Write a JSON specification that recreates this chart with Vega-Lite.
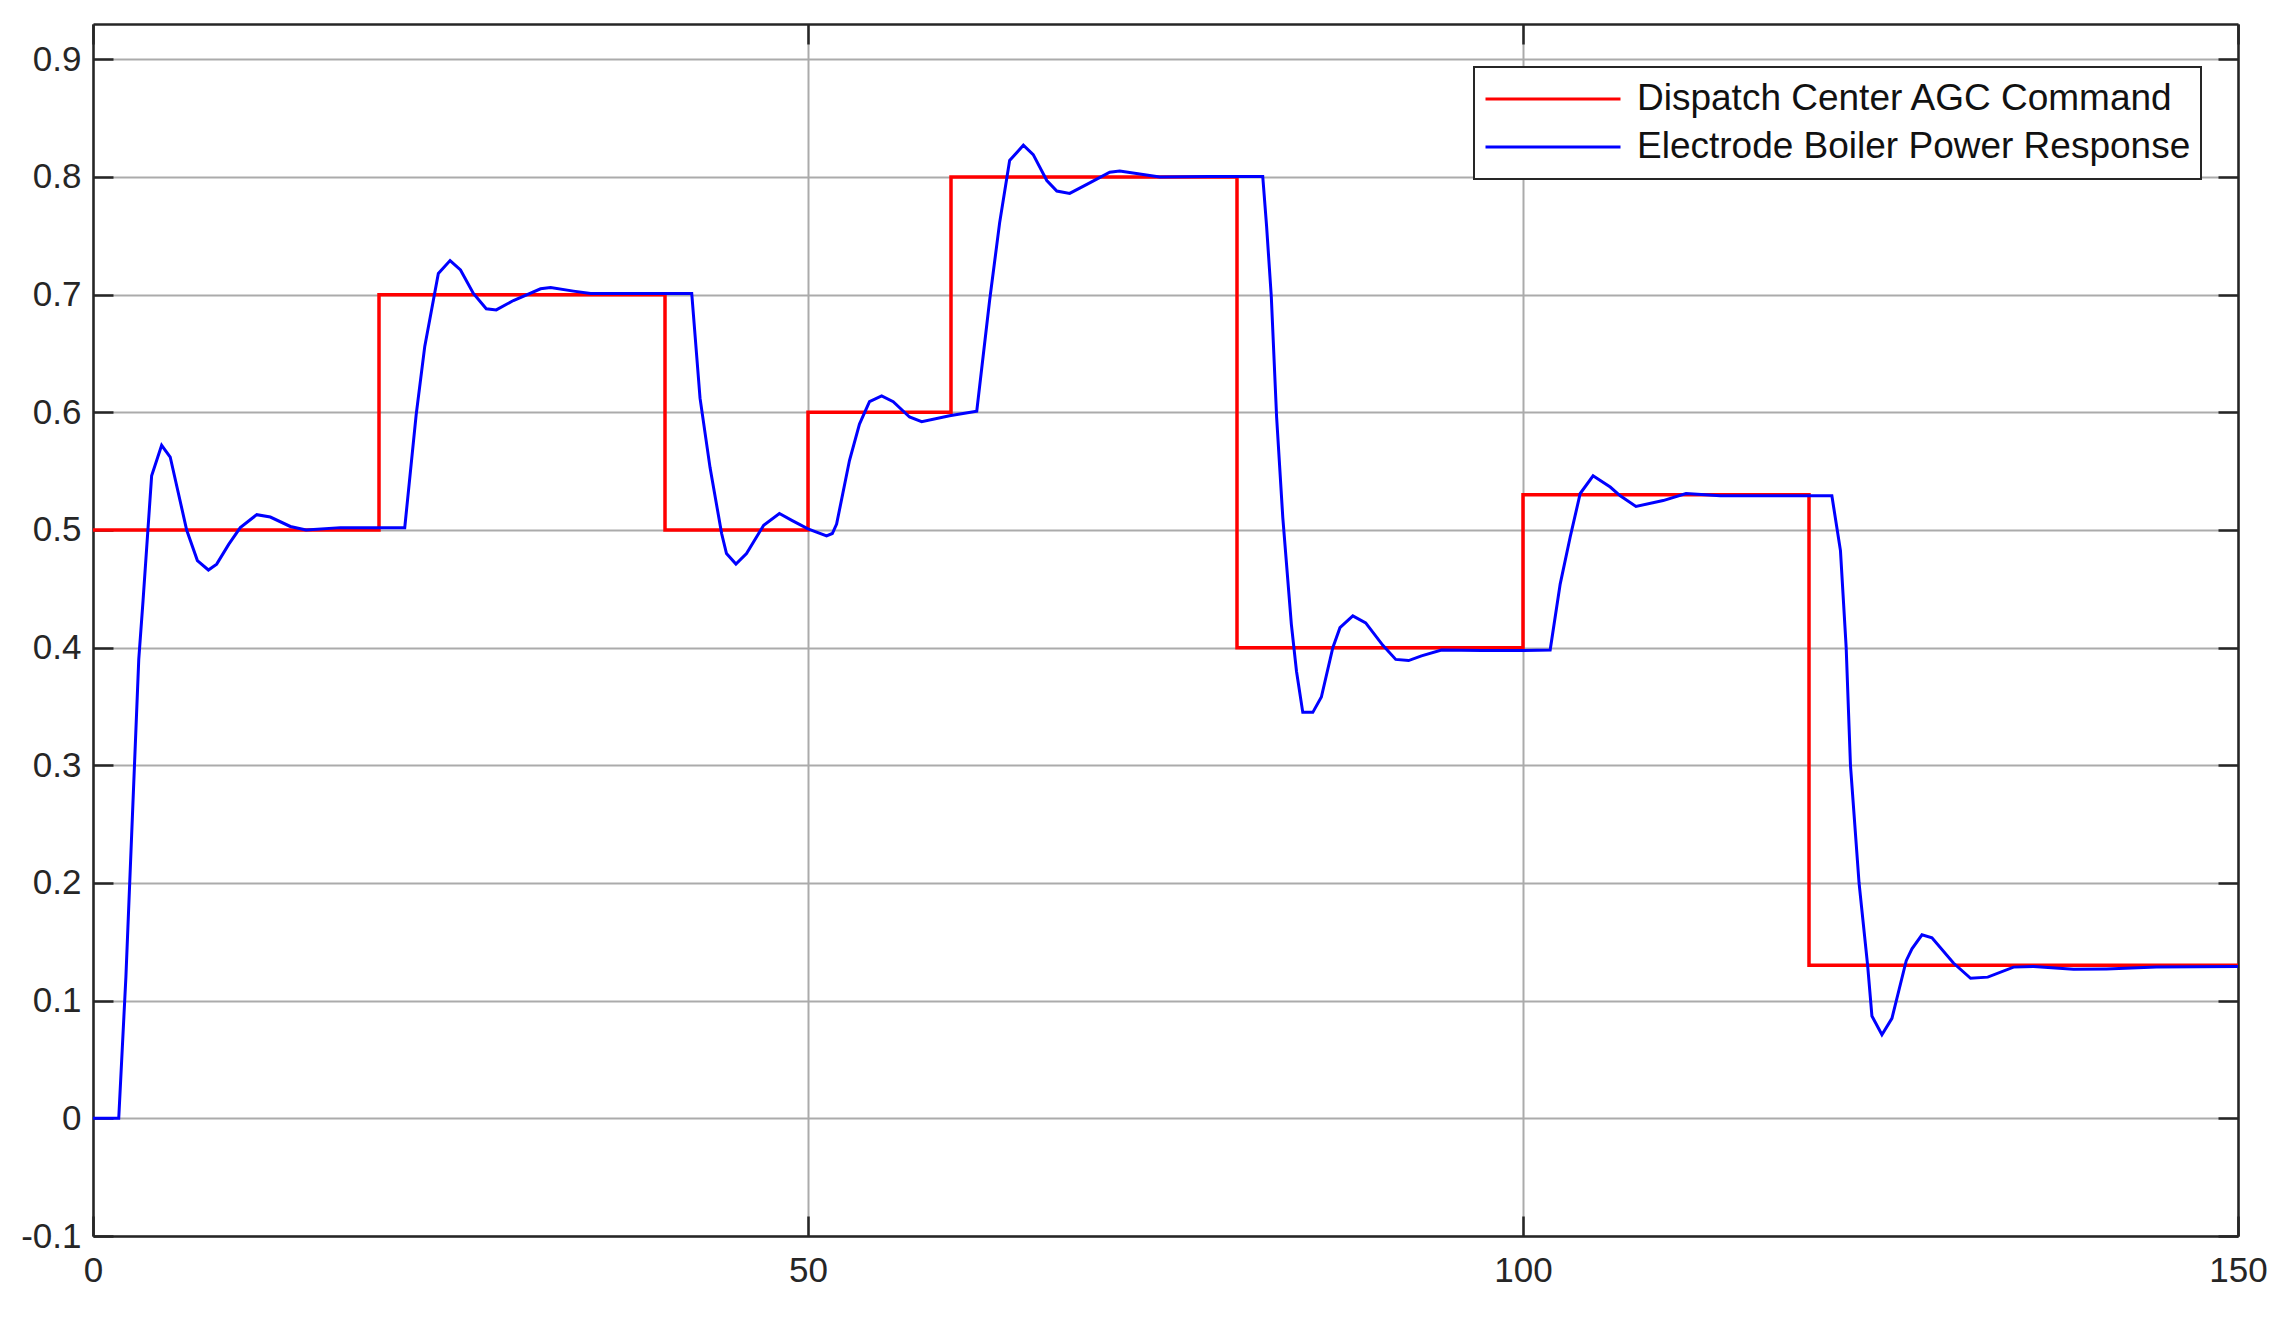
{
  "$schema": "https://vega.github.io/schema/vega-lite/v6.json",
  "width": 2145,
  "height": 1212,
  "autosize": "none",
  "padding": {"left": 93, "top": 24, "right": 55, "bottom": 85},
  "background": "white",
  "datasets": {
    "agc": [
      {"t": 0, "v": 0.5, "series": "Dispatch Center AGC Command"},
      {"t": 20, "v": 0.7, "series": "Dispatch Center AGC Command"},
      {"t": 40, "v": 0.5, "series": "Dispatch Center AGC Command"},
      {"t": 50, "v": 0.6, "series": "Dispatch Center AGC Command"},
      {"t": 60, "v": 0.8, "series": "Dispatch Center AGC Command"},
      {"t": 80, "v": 0.4, "series": "Dispatch Center AGC Command"},
      {"t": 100, "v": 0.53, "series": "Dispatch Center AGC Command"},
      {"t": 120, "v": 0.13, "series": "Dispatch Center AGC Command"},
      {"t": 150, "v": 0.13, "series": "Dispatch Center AGC Command"}
    ],
    "boiler": [
      {"t": 0, "v": 0, "series": "Electrode Boiler Power Response"},
      {"t": 1.8, "v": 0, "series": "Electrode Boiler Power Response"},
      {"t": 2.3, "v": 0.12, "series": "Electrode Boiler Power Response"},
      {"t": 2.7, "v": 0.24, "series": "Electrode Boiler Power Response"},
      {"t": 3.2, "v": 0.39, "series": "Electrode Boiler Power Response"},
      {"t": 3.5, "v": 0.44, "series": "Electrode Boiler Power Response"},
      {"t": 4.1, "v": 0.546, "series": "Electrode Boiler Power Response"},
      {"t": 4.8, "v": 0.572, "series": "Electrode Boiler Power Response"},
      {"t": 5.4, "v": 0.562, "series": "Electrode Boiler Power Response"},
      {"t": 6.55, "v": 0.5, "series": "Electrode Boiler Power Response"},
      {"t": 7.3, "v": 0.474, "series": "Electrode Boiler Power Response"},
      {"t": 8.07, "v": 0.466, "series": "Electrode Boiler Power Response"},
      {"t": 8.65, "v": 0.471, "series": "Electrode Boiler Power Response"},
      {"t": 9.5, "v": 0.488, "series": "Electrode Boiler Power Response"},
      {"t": 10.3, "v": 0.502, "series": "Electrode Boiler Power Response"},
      {"t": 11.45, "v": 0.513, "series": "Electrode Boiler Power Response"},
      {"t": 12.4, "v": 0.511, "series": "Electrode Boiler Power Response"},
      {"t": 13.8, "v": 0.503, "series": "Electrode Boiler Power Response"},
      {"t": 14.9, "v": 0.5, "series": "Electrode Boiler Power Response"},
      {"t": 17.3, "v": 0.502, "series": "Electrode Boiler Power Response"},
      {"t": 19.9, "v": 0.502, "series": "Electrode Boiler Power Response"},
      {"t": 21.8, "v": 0.502, "series": "Electrode Boiler Power Response"},
      {"t": 22.6, "v": 0.598, "series": "Electrode Boiler Power Response"},
      {"t": 23.2, "v": 0.656, "series": "Electrode Boiler Power Response"},
      {"t": 24.15, "v": 0.718, "series": "Electrode Boiler Power Response"},
      {"t": 24.97, "v": 0.729, "series": "Electrode Boiler Power Response"},
      {"t": 25.7, "v": 0.721, "series": "Electrode Boiler Power Response"},
      {"t": 26.6, "v": 0.701, "series": "Electrode Boiler Power Response"},
      {"t": 27.5, "v": 0.688, "series": "Electrode Boiler Power Response"},
      {"t": 28.2, "v": 0.687, "series": "Electrode Boiler Power Response"},
      {"t": 29.4, "v": 0.695, "series": "Electrode Boiler Power Response"},
      {"t": 31.3, "v": 0.705, "series": "Electrode Boiler Power Response"},
      {"t": 32.0, "v": 0.706, "series": "Electrode Boiler Power Response"},
      {"t": 33.6, "v": 0.703, "series": "Electrode Boiler Power Response"},
      {"t": 34.8, "v": 0.701, "series": "Electrode Boiler Power Response"},
      {"t": 36.2, "v": 0.701, "series": "Electrode Boiler Power Response"},
      {"t": 39.0, "v": 0.701, "series": "Electrode Boiler Power Response"},
      {"t": 41.87, "v": 0.701, "series": "Electrode Boiler Power Response"},
      {"t": 42.45, "v": 0.612, "series": "Electrode Boiler Power Response"},
      {"t": 43.15, "v": 0.553, "series": "Electrode Boiler Power Response"},
      {"t": 43.96, "v": 0.497, "series": "Electrode Boiler Power Response"},
      {"t": 44.3, "v": 0.48, "series": "Electrode Boiler Power Response"},
      {"t": 44.96, "v": 0.471, "series": "Electrode Boiler Power Response"},
      {"t": 45.7, "v": 0.48, "series": "Electrode Boiler Power Response"},
      {"t": 46.9, "v": 0.504, "series": "Electrode Boiler Power Response"},
      {"t": 48.0, "v": 0.514, "series": "Electrode Boiler Power Response"},
      {"t": 48.9, "v": 0.508, "series": "Electrode Boiler Power Response"},
      {"t": 50.0, "v": 0.501, "series": "Electrode Boiler Power Response"},
      {"t": 51.3, "v": 0.495, "series": "Electrode Boiler Power Response"},
      {"t": 51.7, "v": 0.497, "series": "Electrode Boiler Power Response"},
      {"t": 52.0, "v": 0.505, "series": "Electrode Boiler Power Response"},
      {"t": 52.9, "v": 0.559, "series": "Electrode Boiler Power Response"},
      {"t": 53.6, "v": 0.59, "series": "Electrode Boiler Power Response"},
      {"t": 54.3, "v": 0.609, "series": "Electrode Boiler Power Response"},
      {"t": 55.15, "v": 0.614, "series": "Electrode Boiler Power Response"},
      {"t": 55.96, "v": 0.609, "series": "Electrode Boiler Power Response"},
      {"t": 57.1, "v": 0.596, "series": "Electrode Boiler Power Response"},
      {"t": 57.95, "v": 0.592, "series": "Electrode Boiler Power Response"},
      {"t": 59.9, "v": 0.597, "series": "Electrode Boiler Power Response"},
      {"t": 61.8, "v": 0.601, "series": "Electrode Boiler Power Response"},
      {"t": 62.7, "v": 0.695, "series": "Electrode Boiler Power Response"},
      {"t": 63.4, "v": 0.761, "series": "Electrode Boiler Power Response"},
      {"t": 64.1, "v": 0.814, "series": "Electrode Boiler Power Response"},
      {"t": 65.06, "v": 0.827, "series": "Electrode Boiler Power Response"},
      {"t": 65.75, "v": 0.819, "series": "Electrode Boiler Power Response"},
      {"t": 66.7, "v": 0.797, "series": "Electrode Boiler Power Response"},
      {"t": 67.4, "v": 0.788, "series": "Electrode Boiler Power Response"},
      {"t": 68.3, "v": 0.786, "series": "Electrode Boiler Power Response"},
      {"t": 69.7, "v": 0.795, "series": "Electrode Boiler Power Response"},
      {"t": 71.1, "v": 0.804, "series": "Electrode Boiler Power Response"},
      {"t": 71.8, "v": 0.805, "series": "Electrode Boiler Power Response"},
      {"t": 74.6, "v": 0.8, "series": "Electrode Boiler Power Response"},
      {"t": 78.1, "v": 0.8005, "series": "Electrode Boiler Power Response"},
      {"t": 81.8, "v": 0.8005, "series": "Electrode Boiler Power Response"},
      {"t": 82.07, "v": 0.758, "series": "Electrode Boiler Power Response"},
      {"t": 82.4, "v": 0.698, "series": "Electrode Boiler Power Response"},
      {"t": 82.77, "v": 0.596, "series": "Electrode Boiler Power Response"},
      {"t": 83.2, "v": 0.511, "series": "Electrode Boiler Power Response"},
      {"t": 83.8, "v": 0.42, "series": "Electrode Boiler Power Response"},
      {"t": 84.16, "v": 0.38, "series": "Electrode Boiler Power Response"},
      {"t": 84.6, "v": 0.345, "series": "Electrode Boiler Power Response"},
      {"t": 85.3, "v": 0.345, "series": "Electrode Boiler Power Response"},
      {"t": 85.9, "v": 0.358, "series": "Electrode Boiler Power Response"},
      {"t": 86.7, "v": 0.4, "series": "Electrode Boiler Power Response"},
      {"t": 87.2, "v": 0.417, "series": "Electrode Boiler Power Response"},
      {"t": 88.1, "v": 0.427, "series": "Electrode Boiler Power Response"},
      {"t": 89.0, "v": 0.421, "series": "Electrode Boiler Power Response"},
      {"t": 90.2, "v": 0.402, "series": "Electrode Boiler Power Response"},
      {"t": 91.1, "v": 0.39, "series": "Electrode Boiler Power Response"},
      {"t": 92.0, "v": 0.389, "series": "Electrode Boiler Power Response"},
      {"t": 92.9, "v": 0.393, "series": "Electrode Boiler Power Response"},
      {"t": 94.3, "v": 0.398, "series": "Electrode Boiler Power Response"},
      {"t": 97.1, "v": 0.3975, "series": "Electrode Boiler Power Response"},
      {"t": 100.0, "v": 0.3975, "series": "Electrode Boiler Power Response"},
      {"t": 101.9, "v": 0.398, "series": "Electrode Boiler Power Response"},
      {"t": 102.6, "v": 0.454, "series": "Electrode Boiler Power Response"},
      {"t": 103.3, "v": 0.494, "series": "Electrode Boiler Power Response"},
      {"t": 104.0, "v": 0.531, "series": "Electrode Boiler Power Response"},
      {"t": 104.9, "v": 0.546, "series": "Electrode Boiler Power Response"},
      {"t": 106.1, "v": 0.5365, "series": "Electrode Boiler Power Response"},
      {"t": 106.8, "v": 0.529, "series": "Electrode Boiler Power Response"},
      {"t": 107.9, "v": 0.52, "series": "Electrode Boiler Power Response"},
      {"t": 109.8, "v": 0.525, "series": "Electrode Boiler Power Response"},
      {"t": 111.4, "v": 0.531, "series": "Electrode Boiler Power Response"},
      {"t": 113.8, "v": 0.529, "series": "Electrode Boiler Power Response"},
      {"t": 121.6, "v": 0.529, "series": "Electrode Boiler Power Response"},
      {"t": 122.2, "v": 0.4825, "series": "Electrode Boiler Power Response"},
      {"t": 122.6, "v": 0.4, "series": "Electrode Boiler Power Response"},
      {"t": 122.9, "v": 0.3, "series": "Electrode Boiler Power Response"},
      {"t": 123.5, "v": 0.2, "series": "Electrode Boiler Power Response"},
      {"t": 124.1, "v": 0.13, "series": "Electrode Boiler Power Response"},
      {"t": 124.4, "v": 0.087, "series": "Electrode Boiler Power Response"},
      {"t": 125.1, "v": 0.071, "series": "Electrode Boiler Power Response"},
      {"t": 125.8, "v": 0.085, "series": "Electrode Boiler Power Response"},
      {"t": 126.8, "v": 0.134, "series": "Electrode Boiler Power Response"},
      {"t": 127.2, "v": 0.144, "series": "Electrode Boiler Power Response"},
      {"t": 127.9, "v": 0.156, "series": "Electrode Boiler Power Response"},
      {"t": 128.6, "v": 0.1535, "series": "Electrode Boiler Power Response"},
      {"t": 130.1, "v": 0.132, "series": "Electrode Boiler Power Response"},
      {"t": 131.3, "v": 0.119, "series": "Electrode Boiler Power Response"},
      {"t": 132.5, "v": 0.12, "series": "Electrode Boiler Power Response"},
      {"t": 134.3, "v": 0.1285, "series": "Electrode Boiler Power Response"},
      {"t": 135.7, "v": 0.129, "series": "Electrode Boiler Power Response"},
      {"t": 138.5, "v": 0.1266, "series": "Electrode Boiler Power Response"},
      {"t": 140.8, "v": 0.127, "series": "Electrode Boiler Power Response"},
      {"t": 144.3, "v": 0.1285, "series": "Electrode Boiler Power Response"},
      {"t": 150, "v": 0.129, "series": "Electrode Boiler Power Response"}
    ]
  },
  "layer": [
    {
      "data": {"name": "agc"},
      "mark": {"type": "line", "interpolate": "step-after", "strokeWidth": 3.5, "clip": true},
      "encoding": {
        "x": {
          "field": "t", "type": "quantitative",
          "scale": {"domain": [0, 150], "nice": false, "zero": false},
          "axis": {
            "orient": "bottom", "title": null, "values": [0, 50, 100, 150],
            "grid": true, "labelPadding": 37
          }
        },
        "y": {
          "field": "v", "type": "quantitative",
          "scale": {"domain": [-0.1, 0.93], "nice": false, "zero": false},
          "axis": {
            "orient": "left", "title": null,
            "values": [-0.1, 0, 0.1, 0.2, 0.3, 0.4, 0.5, 0.6, 0.7, 0.8, 0.9],
            "labelExpr": "toString(round(datum.value * 10) / 10)",
            "grid": true, "labelPadding": 32
          }
        },
        "color": {
          "field": "series", "type": "nominal",
          "scale": {
            "domain": ["Dispatch Center AGC Command", "Electrode Boiler Power Response"],
            "range": ["#ff0000", "#0000ff"]
          },
          "legend": {
            "title": null,
            "orient": "none",
            "legendX": 1381,
            "legendY": 43,
            "symbolType": "stroke",
            "symbolSize": 18225,
            "symbolStrokeWidth": 3,
            "clipHeight": 44,
            "rowPadding": 4,
            "padding": 10,
            "labelOffset": 15,
            "labelFontSize": 37,
            "labelFont": "Liberation Sans",
            "labelColor": "#111111",
            "labelLimit": 800,
            "strokeColor": "#262626",
            "fillColor": "white",
            "cornerRadius": 0,
            "encode": {"legend": {"update": {"strokeWidth": {"value": 2}}}}
          }
        }
      }
    },
    {
      "data": {"name": "boiler"},
      "mark": {"type": "line", "strokeWidth": 3, "clip": true},
      "encoding": {
        "x": {
          "field": "t", "type": "quantitative",
          "axis": {
            "orient": "top", "title": null, "values": [0, 50, 100, 150],
            "grid": false, "labels": false
          }
        },
        "y": {
          "field": "v", "type": "quantitative",
          "axis": {
            "orient": "right", "title": null,
            "values": [-0.1, 0, 0.1, 0.2, 0.3, 0.4, 0.5, 0.6, 0.7, 0.8, 0.9],
            "grid": false, "labels": false
          }
        },
        "color": {"field": "series", "type": "nominal"}
      }
    }
  ],
  "resolve": {"axis": {"x": "independent", "y": "independent"}},
  "config": {
    "view": {"stroke": null},
    "font": "Liberation Sans",
    "axis": {
      "domainColor": "#262626",
      "domainWidth": 2.5,
      "tickColor": "#262626",
      "tickWidth": 2.5,
      "tickSize": -20,
      "gridColor": "#ababab",
      "gridWidth": 2,
      "gridOpacity": 1,
      "labelFlush": false,
      "labelFont": "Liberation Sans",
      "labelFontSize": 35,
      "labelColor": "#262626"
    }
  }
}
